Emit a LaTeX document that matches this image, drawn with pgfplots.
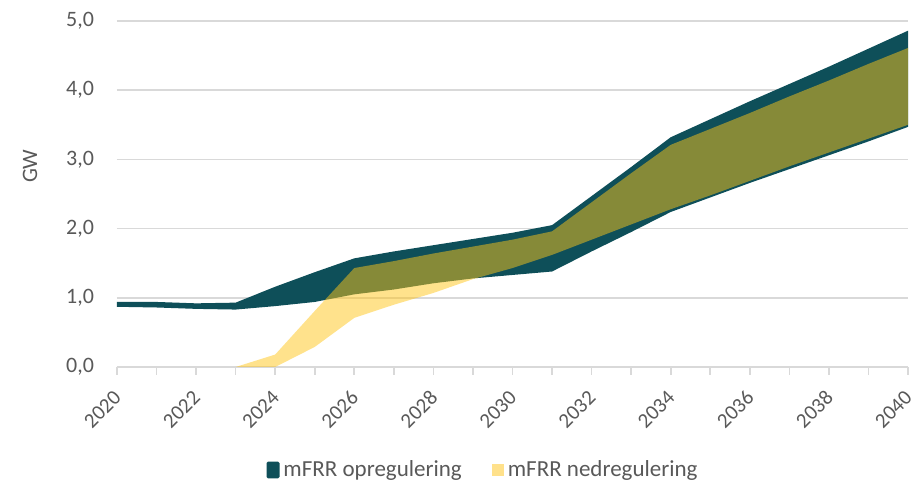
\documentclass[border=0pt]{standalone}
\usepackage{pgfplots}
\pgfplotsset{compat=1.18}
\usepackage{pgfplotstable}
\usepgfplotslibrary{fillbetween}
\usepackage{fontspec}
\setmainfont{Carlito}
\definecolor{teal}{RGB}{14,79,89}
\definecolor{ylw}{RGB}{255,197,25}
\definecolor{txt}{RGB}{89,89,89}
\definecolor{grd}{RGB}{217,217,217}

\pgfplotstableread{
year lo hi
2020 0.87 0.94
2021 0.86 0.94
2022 0.84 0.92
2023 0.83 0.93
2024 0.88 1.16
2025 0.94 1.37
2026 1.05 1.57
2027 1.12 1.67
2028 1.21 1.76
2029 1.28 1.85
2030 1.33 1.94
2031 1.38 2.05
2032 1.67 2.47
2033 1.95 2.89
2034 2.24 3.32
2035 2.45 3.58
2036 2.66 3.84
2037 2.86 4.09
2038 3.06 4.34
2039 3.26 4.60
2040 3.47 4.86
}\opreg

\pgfplotstableread{
year lo hi
2023 0.00 0.00
2024 0.00 0.18
2025 0.29 0.81
2026 0.71 1.43
2027 0.90 1.53
2028 1.07 1.64
2029 1.27 1.74
2030 1.43 1.84
2031 1.62 1.96
2032 1.84 2.38
2033 2.06 2.80
2034 2.28 3.21
2035 2.48 3.44
2036 2.69 3.67
2037 2.90 3.91
2038 3.10 4.14
2039 3.30 4.38
2040 3.50 4.61
}\nedreg

\begin{document}
\begin{tikzpicture}[font=\fontsize{10.5}{12}\selectfont]
\begin{axis}[
  name=ax,
  at={(0pt,0pt)}, anchor=south west,
  scale only axis,
  width=395.5pt, height=173pt,
  xmin=2020, xmax=2040, ymin=0, ymax=5,
  xtick={2020,2022,...,2040},
  minor xtick={2021,2023,...,2039},
  ytick={0,1,...,5},
  xticklabel style={rotate=45, anchor=east, font=\fontsize{10.5}{12}\selectfont, color=txt, inner sep=1pt, yshift=-7.0pt, xshift=-5.5pt,
    /pgf/number format/1000 sep={}, /pgf/number format/fixed, /pgf/number format/precision=0},
  yticklabel style={font=\fontsize{11}{12}\selectfont, color=txt, xshift=-4pt,
    /pgf/number format/fixed, /pgf/number format/fixed zerofill, /pgf/number format/precision=1, /pgf/number format/use comma},
  /pgf/number format/assume math mode=true,
  axis lines*=left,
  x axis line style={draw=grd, line width=0.8pt},
  y axis line style={draw=none},
  ytick style={draw=none},
  xtick style={draw=grd, line width=0.8pt},
  minor x tick style={draw=grd, line width=0.8pt},
  tick align=outside,
  major tick length=4pt, minor tick length=4pt,
  ymajorgrids,
  grid style={draw=grd, line width=0.8pt},
  ylabel={GW},
  ylabel style={color=txt, font=\fontsize{11}{12}\selectfont, at={(rel axis cs:0,0.58)}, anchor=center, yshift=43.5pt},
  legend style={at={(rel axis cs:0.464,0)}, anchor=center, yshift=-51.5pt, draw=none, legend columns=2, font=\fontsize{11.5}{12}\selectfont, text=txt, /tikz/every even column/.append style={column sep=13pt}},
  clip=false,
]
\addplot[draw=none, name path=oL, forget plot] table[x=year,y=lo]{\opreg};
\addplot[draw=none, name path=oU, forget plot] table[x=year,y=hi]{\opreg};
\addplot[fill=teal, draw=none, legend image code/.code={\fill[teal, rounded corners=0.8pt] (0pt,-4.2pt) rectangle (6.5pt,4.2pt);}] fill between[of=oU and oL];
\addlegendentry{mFRR opregulering}
\addplot[draw=none, name path=nL, forget plot] table[x=year,y=lo]{\nedreg};
\addplot[draw=none, name path=nU, forget plot] table[x=year,y=hi]{\nedreg};
\addplot[fill=ylw, fill opacity=0.5, draw=none, legend image code/.code={\fill[ylw, fill opacity=0.5] (0pt,-3pt) rectangle (6pt,3pt);}] fill between[of=nU and nL];
\addlegendentry{mFRR nedregulering}
\end{axis}
\pgfresetboundingbox
\path[use as bounding box] (-58.5pt,-57.5pt) rectangle (399pt,183.5pt);
\end{tikzpicture}
\end{document}
